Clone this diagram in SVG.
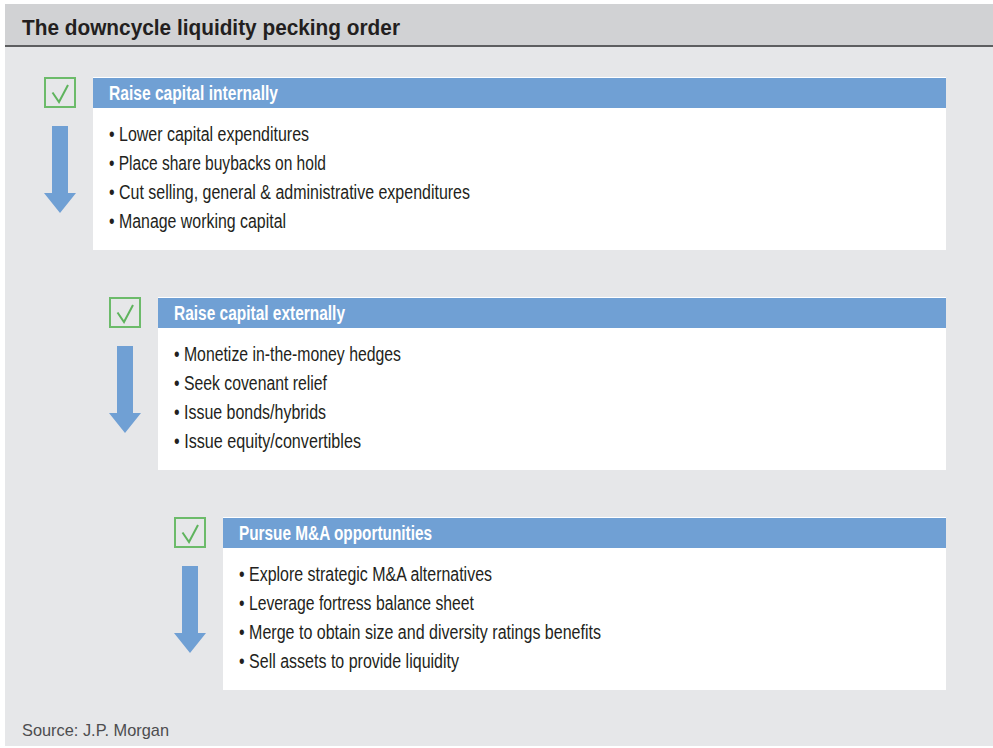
<svg xmlns="http://www.w3.org/2000/svg" width="993" height="748" viewBox="0 0 993 748">
  <style>
    .bg { fill: #e6e7e9; }
    .titlebar { fill: #d1d2d4; }
    .title { font-family: "Liberation Sans", Arial, sans-serif; font-weight: bold; font-size: 22px; fill: #231f20; }
    .head { fill: #70a0d4; }
    .body { fill: #ffffff; }
    .htext { font-family: "Liberation Sans", Arial, sans-serif; font-weight: bold; font-size: 19.5px; fill: #ffffff; }
    .item { font-family: "Liberation Sans", Arial, sans-serif; font-size: 19.5px; fill: #231f20; }
    .check-box { fill: none; stroke: #6cbb6a; stroke-width: 2; }
    .check { fill: none; stroke: #5fb45e; stroke-width: 2; stroke-linejoin: miter; }
    .arrow { fill: #70a0d4; }
    .source { font-family: "Liberation Sans", Arial, sans-serif; font-size: 17px; fill: #4d4d4f; }
  </style>
  <defs>
    <g id="tick">
      <rect class="check-box" x="1" y="1" width="30" height="29"/>
      <polyline class="check" points="8.5,15.5 15,25 24,8"/>
    </g>
    <polygon id="down" class="arrow" points="8,0 24,0 24,67 32,67 16,87 0,67 8,67"/>
  </defs>

  <!-- panel background -->
  <rect x="0" y="0" width="993" height="748" fill="#ffffff"/>
  <rect class="bg" x="5" y="4" width="988" height="742"/>
  <rect class="titlebar" x="5" y="4" width="988" height="41"/>
  <rect x="5" y="45" width="988" height="2" fill="#5d5e60"/>
  <text class="title" x="22" y="35" textLength="378" lengthAdjust="spacingAndGlyphs">The downcycle liquidity pecking order</text>

  <!-- step markers -->
  <g id="connectors">
    <use href="#down" x="44" y="126"/>
    <use href="#down" x="109" y="346"/>
    <use href="#down" x="174" y="566"/>
  </g>

  <g id="step-internal">
    <use href="#tick" x="44" y="77"/>
    <rect x="93" y="77" width="853" height="1" fill="#ffffff"/>
    <rect class="head" x="93" y="78" width="853" height="30"/>
    <rect class="body" x="93" y="108" width="853" height="142"/>
    <text class="htext" x="109" y="100" textLength="169" lengthAdjust="spacingAndGlyphs">Raise capital internally</text>
    <text class="item" x="109" y="141" textLength="200" lengthAdjust="spacingAndGlyphs">• Lower capital expenditures</text>
    <text class="item" x="109" y="170" textLength="217" lengthAdjust="spacingAndGlyphs">• Place share buybacks on hold</text>
    <text class="item" x="109" y="199" textLength="361" lengthAdjust="spacingAndGlyphs">• Cut selling, general &amp; administrative expenditures</text>
    <text class="item" x="109" y="228" textLength="177" lengthAdjust="spacingAndGlyphs">• Manage working capital</text>
  </g>

  <g id="step-external">
    <use href="#tick" x="109" y="297"/>
    <rect x="158" y="297" width="788" height="1" fill="#ffffff"/>
    <rect class="head" x="158" y="298" width="788" height="30"/>
    <rect class="body" x="158" y="328" width="788" height="142"/>
    <text class="htext" x="174" y="320" textLength="171" lengthAdjust="spacingAndGlyphs">Raise capital externally</text>
    <text class="item" x="174" y="361" textLength="227" lengthAdjust="spacingAndGlyphs">• Monetize in-the-money hedges</text>
    <text class="item" x="174" y="390" textLength="153" lengthAdjust="spacingAndGlyphs">• Seek covenant relief</text>
    <text class="item" x="174" y="419" textLength="152" lengthAdjust="spacingAndGlyphs">• Issue bonds/hybrids</text>
    <text class="item" x="174" y="448" textLength="187" lengthAdjust="spacingAndGlyphs">• Issue equity/convertibles</text>
  </g>

  <g id="step-ma">
    <use href="#tick" x="174" y="517"/>
    <rect x="223" y="517" width="723" height="1" fill="#ffffff"/>
    <rect class="head" x="223" y="518" width="723" height="30"/>
    <rect class="body" x="223" y="548" width="723" height="142"/>
    <text class="htext" x="239" y="540" textLength="193" lengthAdjust="spacingAndGlyphs">Pursue M&amp;A opportunities</text>
    <text class="item" x="239" y="581" textLength="253" lengthAdjust="spacingAndGlyphs">• Explore strategic M&amp;A alternatives</text>
    <text class="item" x="239" y="610" textLength="235" lengthAdjust="spacingAndGlyphs">• Leverage fortress balance sheet</text>
    <text class="item" x="239" y="639" textLength="362" lengthAdjust="spacingAndGlyphs">• Merge to obtain size and diversity ratings benefits</text>
    <text class="item" x="239" y="668" textLength="220" lengthAdjust="spacingAndGlyphs">• Sell assets to provide liquidity</text>
  </g>

  <text class="source" x="22" y="736" textLength="147" lengthAdjust="spacingAndGlyphs">Source: J.P. Morgan</text>
</svg>
